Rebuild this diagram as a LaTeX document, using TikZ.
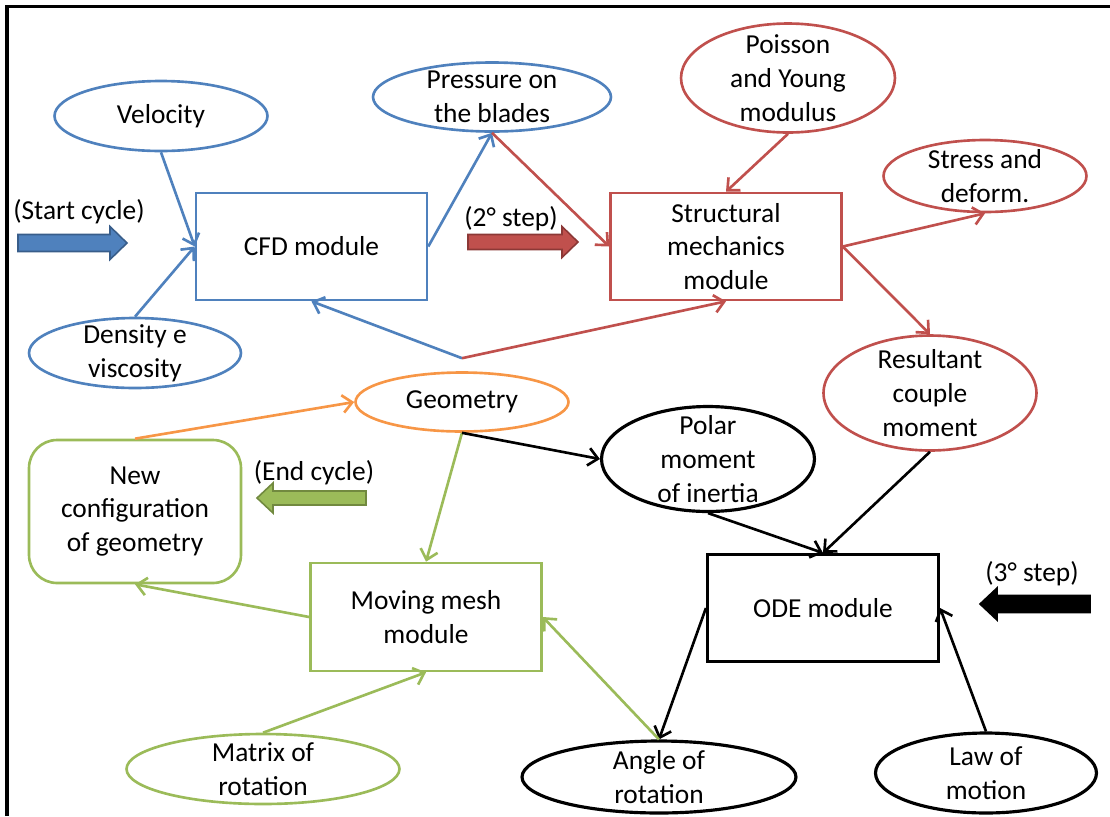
\documentclass[tikz,border=0pt]{standalone}
\usepackage{fontspec}
\setmainfont{Carlito}
\usepackage{tikz}
\usetikzlibrary{arrows.meta,shapes.geometric}
\definecolor{ofblue}{HTML}{4F81BD}
\definecolor{ofblueline}{HTML}{385D8A}
\definecolor{ofred}{HTML}{C0504D}
\definecolor{ofredline}{HTML}{8C3836}
\definecolor{ofgreen}{HTML}{9BBB59}
\definecolor{ofgreenline}{HTML}{71893F}
\definecolor{oforange}{HTML}{F79646}
% block arrow: tail x, tip x, y, half shaft, half head, head length, style
\newcommand{\blockarrow}[7]{%
  \draw[#7] (#1,{#3-#4}) -- ({#2-#6},{#3-#4}) -- ({#2-#6},{#3-#5}) -- (#2,#3)
    -- ({#2-#6},{#3+#5}) -- ({#2-#6},{#3+#4}) -- (#1,{#3+#4}) -- cycle;}

\begin{document}
\begin{tikzpicture}[x=0.02cm,y=-0.02cm,font=\fontsize{15.6pt}{19.3pt}\selectfont,
  ell/.style={ellipse,draw,line width=1.5pt,align=center,inner sep=-1cm},
  bx/.style={rectangle,draw,line width=1.5pt,align=center,minimum width=4.62cm,minimum height=2.14cm},
  con/.style={-{Straight Barb[length=5.5pt,width=10pt]},line width=1.5pt}]
  \useasboundingbox (0,0) rectangle (1110,816);
  \draw[line width=1.8pt] (7,816) -- (7,6.5) -- (1110,6.5);

  % modules
  \node[bx,draw=ofblue] (cfd) at (311.5,246.5) {CFD module};
  \node[bx,draw=ofred] (str) at (726,246.5) {Structural\\mechanics\\module};
  \node[bx,line width=1.8pt] (ode) at (823,608) {ODE module};
  \node[bx,draw=ofgreen,minimum height=2.16cm] (mesh) at (426,617) {Moving mesh\\module};
  \node[bx,draw=ofgreen,minimum width=4.24cm,minimum height=2.86cm,rounded corners=0.56cm] (newc) at (135,511.5) {New\\configuration\\of geometry};

  % data
  \node[ell,draw=ofblue,minimum width=4.26cm,minimum height=1.4cm] (vel) at (161,116) {Velocity};
  \node[ell,draw=ofblue,minimum width=4.76cm,minimum height=1.38cm] (press) at (492,97) {Pressure on\\the blades};
  \node[ell,draw=ofblue,minimum width=4.24cm,minimum height=1.4cm] (dens) at (135,353) {Density e\\viscosity};
  \node[ell,draw=oforange,minimum width=4.26cm,minimum height=1.18cm] (geo) at (462,402) {Geometry};
  \node[ell,draw=ofred,minimum width=4.28cm,minimum height=2.18cm] (pois) at (788,78) {Poisson\\and Young\\modulus};
  \node[ell,draw=ofred,minimum width=4.06cm,minimum height=1.44cm] (stress) at (985,176) {Stress and\\deform.};
  \node[ell,draw=ofred,minimum width=4.26cm,minimum height=2.3cm] (res) at (930,393) {Resultant\\couple\\moment};
  \node[ell,line width=1.8pt,minimum width=4.26cm,minimum height=2.1cm] (polar) at (708,459) {Polar\\moment\\of inertia};
  \node[ell,line width=1.8pt,minimum width=5.48cm,minimum height=1.44cm] (angle) at (659,777) {Angle of\\rotation};
  \node[ell,line width=1.8pt,minimum width=4.42cm,minimum height=1.6cm] (law) at (986,773) {Law of\\motion};
  \node[ell,draw=ofgreen,minimum width=5.46cm,minimum height=1.4cm] (matrix) at (263,769) {Matrix of\\rotation};
  \coordinate (gtop) at ([yshift=0.26cm]geo.north);

  % step arrows
  \node (startlbl) at (79,212) {(Start cycle)};
  \node (steptwo) at (511,219) {(2° step)};
  \node (endlbl) at (314,473) {(End cycle)};
  \node (stepthree) at (1032,574) {(3° step)};
  \blockarrow{18}{127}{243}{8.5}{16.5}{17}{fill=ofblue,draw=ofblueline,line width=0.9pt}
  \blockarrow{468}{578}{242}{7.5}{15.5}{16}{fill=ofred,draw=ofredline,line width=0.9pt}
  \blockarrow{366}{257}{498}{7}{15}{-16}{fill=ofgreen,draw=ofgreenline,line width=0.9pt}
  \blockarrow{1090}{980}{604}{8.5}{16}{-17}{fill=black,draw=black,line width=0.9pt}

  % connectors
  \draw[con,ofblue] (vel.south) -- (cfd.west);
  \draw[con,ofblue] (dens.north) -- (cfd.west);
  \draw[con,ofblue] (cfd.east) -- (press.south);
  \draw[con,ofblue] (gtop) -- (cfd.south);
  \draw[con,ofred] (press.south) -- (str.west);
  \draw[con,ofred] (gtop) -- (str.south);
  \draw[con,ofred] (pois.south) -- (str.north);
  \draw[con,ofred] (str.east) -- (stress.south);
  \draw[con,ofred] (str.east) -- (res.north);
  \draw[con,oforange] (newc.north) -- (geo.west);
  \draw[con,ofgreen] (geo.south) -- (mesh.north);
  \draw[con] (geo.south) -- (polar.west);
  \draw[con] (polar.south) -- (ode.north);
  \draw[con] (res.south) -- (ode.north);
  \draw[con] (ode.west) -- (angle.north);
  \draw[con] (law.north) -- (ode.east);
  \draw[con,ofgreen] (angle.north) -- (mesh.east);
  \draw[con,ofgreen] (matrix.north) -- (mesh.south);
  \draw[con,ofgreen] (mesh.west) -- (newc.south);
\end{tikzpicture}
\end{document}
